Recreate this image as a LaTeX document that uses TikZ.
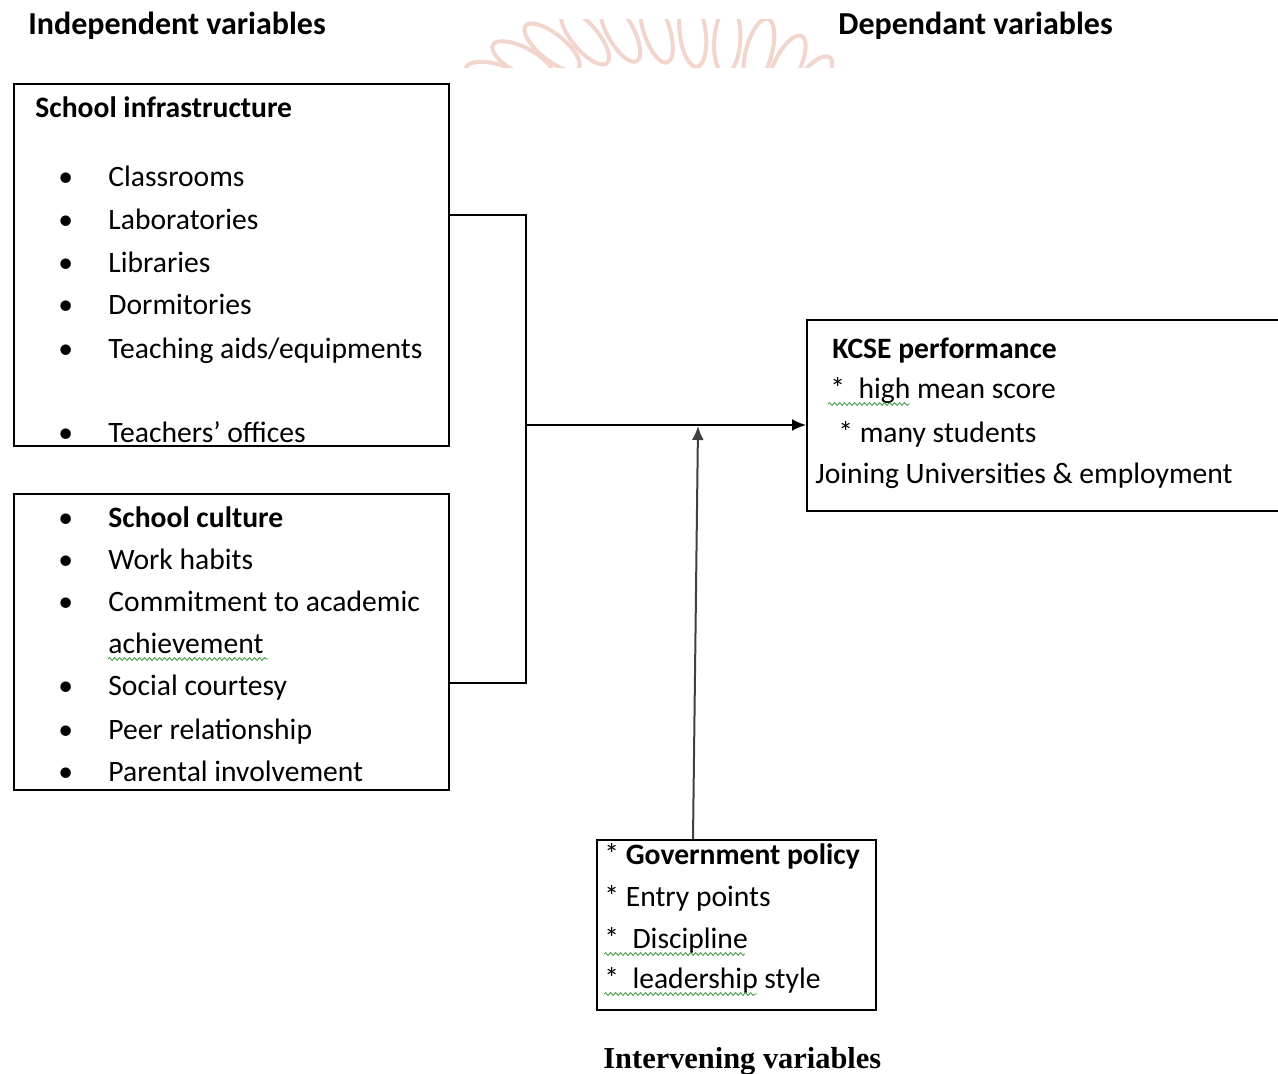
\documentclass[tikz,border=0pt]{standalone}
\usepackage{fontspec}
\setmainfont{Carlito}
\newfontfamily\serifbold{Liberation Serif}
\usetikzlibrary{arrows.meta,decorations.pathmorphing}
\definecolor{wm}{RGB}{242,214,206}
\definecolor{spell}{RGB}{60,150,60}
\begin{document}
\begin{tikzpicture}[x=0.5pt,y=-0.5pt,
  box/.style={draw, line width=1pt, inner sep=0, anchor=north west},
  txt/.style={anchor=base west, inner sep=0, font=\fontsize{14.8}{17}\selectfont},
  bold/.style={txt, font=\fontsize{14.8}{17}\selectfont\bfseries},
  head/.style={txt, font=\fontsize{16}{18}\selectfont\bfseries},
  bul/.style={anchor=base west, inner sep=0, font=\fontsize{14.8}{17}\selectfont},
  conn/.style={line width=1pt},
  arr/.style={line width=1pt, -{Latex[length=7pt,width=6pt]}},
  wavy/.style={spell, line width=0.4pt, decorate, decoration={snake, amplitude=0.7pt, segment length=2.5pt}}]
\useasboundingbox (0,0) rectangle (1278,1074);
\fill[white] (0,0) rectangle (1278,1074);

% faint watermark
\begin{scope}
\clip (440,20) rectangle (860,68);
\foreach \a in {0,...,13}{
  \pgfmathsetmacro{\ang}{165-\a*11}
  \pgfmathsetmacro{\cx}{650+190*cos(\ang)}
  \pgfmathsetmacro{\cy}{150-120*sin(\ang)}
  \pgfmathsetmacro{\rot}{\ang-70}
  \draw[wm, line width=2pt, rotate around={\rot:(\cx,\cy)}] (\cx,\cy) ellipse [x radius=13, y radius=34];
}
\end{scope}

% headings
\node[head] (hi) at (28,35) {Independent variables};
\node[head] (hd) at (838,35) {Dependant variables};
\node[anchor=base west, inner sep=0, font=\serifbold\fontsize{15.2}{17}\selectfont\bfseries] (hv) at (603,1068) {Intervening variables};

% boxes
\node[box, minimum width=217.5pt, minimum height=181pt] (b1) at (13,83) {};
\node[box, minimum width=217.5pt, minimum height=148pt] (b2) at (13,493) {};
\node[box, minimum width=240pt, minimum height=95.5pt] (k) at (806,319) {};
\node[box, minimum width=139.5pt, minimum height=85pt] (g) at (596,839) {};

% box 1 text
\node[bold] (t1) at (35,118) {School infrastructure};
\foreach \y/\t [count=\i] in {187/Classrooms,230/Laboratories,273/Libraries,315/Dormitories}{
  \node[bul] (b1d\i) at (58,\y) {•};
  \node[txt] (b1t\i) at (108,\y) {\t};
}
\node[bul] (b1d5) at (58,359) {•};
\node[txt] (b1t5) at (108,359) {Teaching aids/equipments};
\node[bul] (b1d6) at (58,443) {•};
\node[txt] (b1t6) at (108,443) {Teachers’ offices};

% box 2 text
\node[bul] (b2d1) at (58,527) {•};
\node[bold] (b2t1) at (108,527) {School culture};
\foreach \y/\t [count=\i from 2] in {569/Work habits,611/Commitment to academic,695/Social courtesy,739/Peer relationship,781/Parental involvement}{
  \node[bul] (b2d\i) at (58,\y) {•};
  \node[txt] (b2t\i) at (108,\y) {\t};
}
\node[txt] (b2ach) at (108,653) {achievement};
\draw[wavy] (108,659) -- (268,659);

% KCSE text
\node[bold] (k1) at (832,359) {KCSE performance};
\node[txt] (k2) at (830,399) {*\ \ high mean score};
\node[txt] (k3) at (838,443) {* many students};
\node[txt] (k4) at (815,483) {Joining Universities \& employment};
\draw[wavy] (828,404) -- (910,404);

% Government text
\node[txt] (g1) at (604,864) {* \textbf{Government policy}};
\node[txt] (g2) at (604,906) {* Entry points};
\node[txt] (g3) at (604,948) {*\ \ Discipline};
\node[txt] (g4) at (604,988) {*\ \ leadership style};
\draw[wavy] (604,954) -- (745,954);
\draw[wavy] (604,994) -- (757,994);

% connectors
\coordinate (j1) at (526,215);
\coordinate (j2) at (526,683);
\coordinate (jm) at (526,425);
\coordinate (vb) at (693,839);
\coordinate (vt) at (698,426);
\draw[conn] (j1 -| b1.east) -- (j1) -- (j2) -- (j2 -| b2.east);
\draw[arr] (jm) -- (jm -| k.west);
\draw[arr, black!75] (vb) -- (vt);
\end{tikzpicture}
\end{document}
